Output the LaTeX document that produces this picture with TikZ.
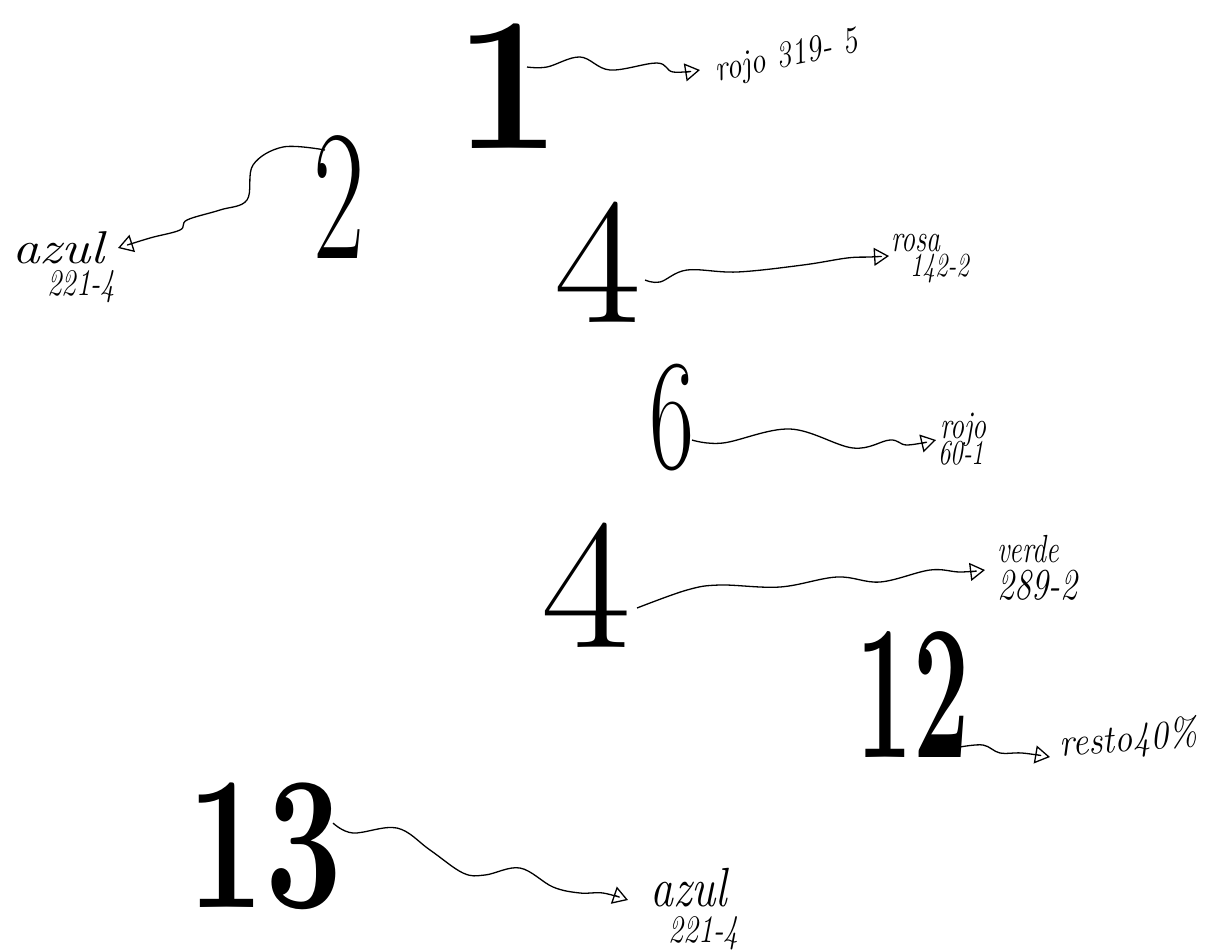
\documentclass[tikz,border=0pt]{standalone}
\usetikzlibrary{arrows.meta}
\newcommand\bignum[4]{\scalebox{#2}[1]{\fontsize{#1}{#1}\selectfont#3#4}}
\newcommand\hw[4]{\scalebox{#2}[#3]{\fontsize{#1}{#1}\selectfont\itshape #4}}
\begin{document}
\begin{tikzpicture}[x=1pt,y=-1pt,
  numbox/.style={inner sep=0pt, anchor=center},
  lbl/.style={inner sep=0pt, anchor=base west},
  conn/.style={line width=1.3pt, line join=round,
    -{Triangle[open,length=15pt,width=18pt]}}]
\useasboundingbox[fill=white] (0,0) rectangle (1228,951);

% big numbers
\node[numbox] (n1)  at (508,86)  {\bignum{190}{1}{\bfseries}{1}};
\node[numbox] (n2)  at (339,197) {\bignum{186}{0.6}{\mdseries}{2}};
\node[numbox] (n4a) at (598,262) {\bignum{180}{1.05}{\mdseries}{4}};
\node[numbox] (n6)  at (672,418) {\bignum{158}{0.62}{\mdseries}{6}};
\node[numbox] (n4b) at (586,585) {\bignum{186}{1.05}{\mdseries}{4}};
\node[numbox] (n12) at (913,695) {\bignum{192}{0.52}{\bfseries}{12}};
\node[numbox] (n13) at (265,846) {\bignum{190}{0.72}{\bfseries}{13}};

% labels
\node[lbl, rotate=12] (l1) at (717,82) {\hw{31}{1}{1.2}{rojo 319- 5}};
\node[lbl] (l2a) at (12,263)  {\hw{46}{1.2}{1}{azul}};
\node[lbl] (l2b) at (47,295)  {\hw{29}{1}{1.3}{221-4}};
\node[lbl] (l3a) at (891,251) {\hw{28}{1}{1.4}{rosa}};
\node[lbl] (l3b) at (910,276) {\hw{25}{1}{1.35}{142-2}};
\node[lbl] (l4a) at (940,438) {\hw{28}{1}{1.4}{rojo}};
\node[lbl] (l4b) at (938,464) {\hw{25}{1}{1.4}{60-1}};
\node[lbl] (l5a) at (997,562) {\hw{28}{1}{1.4}{verde}};
\node[lbl] (l5b) at (997,599) {\hw{34}{1}{1.3}{289-2}};
\node[lbl, rotate=5] (l6) at (1060,757) {\hw{36}{1}{1.1}{resto40\%}};
\node[lbl] (l7a) at (650,906) {\hw{46}{1}{1.2}{azul}};
\node[lbl] (l7b) at (668,942) {\hw{30}{1}{1.3}{221-4}};

% connector end points
\coordinate (s1) at (527,67);   \coordinate (e1) at (700,70);
\coordinate (s2) at (325,150);  \coordinate (e2) at (118,248);
\coordinate (s3) at (645,280);  \coordinate (e3) at (889,256);
\coordinate (s6) at (692,440);  \coordinate (e6) at (936,440);
\coordinate (s4) at (637,608);  \coordinate (e4) at (985,570);
\coordinate (s12) at (960,747); \coordinate (e12) at (1050,757);
\coordinate (s13) at (333,823); \coordinate (e13) at (628,900);

\draw[conn] plot[smooth, tension=0.6] coordinates
  {(s1) (547,67) (580,57) (610,70) (657,63) (673,72) (e1)};
\draw[conn] plot[smooth, tension=0.6] coordinates
  {(s2) (283,147) (253,165) (247,200) (220,210) (187,220) (180,230) (150,238) (e2)};
\draw[conn] plot[smooth, tension=0.6] coordinates
  {(s3) (660,282) (687,270) (737,272) (803,265) (847,258) (870,257) (e3)};
\draw[conn] plot[smooth, tension=0.6] coordinates
  {(s6) (723,443) (790,429) (853,448) (890,440) (907,445) (e6)};
\draw[conn] plot[smooth, tension=0.6] coordinates
  {(s4) (687,590) (720,585) (780,587) (837,577) (880,582) (930,570) (960,572) (e4)};
\draw[conn] plot[smooth, tension=0.6] coordinates
  {(s12) (983,745) (1000,753) (1022,753) (e12)};
\draw[conn] plot[smooth, tension=0.6] coordinates
  {(s13) (353,833) (397,828) (430,850) (463,873) (485,875) (520,868) (553,887) (580,893) (603,893) (e13)};
\end{tikzpicture}
\end{document}
